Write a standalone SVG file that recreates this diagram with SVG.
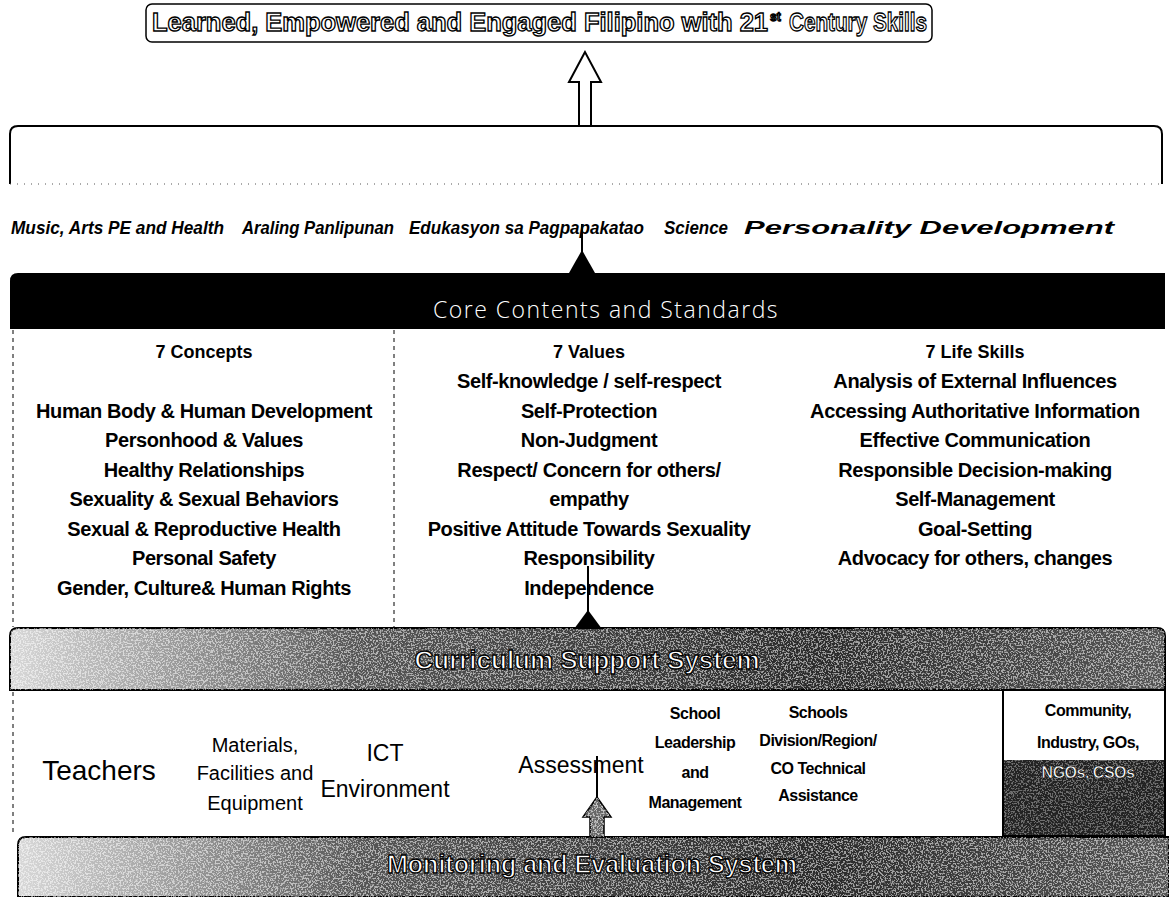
<svg xmlns="http://www.w3.org/2000/svg" width="1169" height="897" viewBox="0 0 1169 897">
<defs>
  <style>
    .t{font-family:"Liberation Sans",Arial,sans-serif;fill:#000}
    .out{font-family:"Liberation Sans",Arial,sans-serif;fill:#fff;stroke:#000;stroke-width:1.3;font-weight:bold}
    .subj{font-family:"Liberation Sans",Arial,sans-serif;font-style:italic;font-weight:bold;font-size:18px}
    .hdr{font-weight:bold;font-size:18px;text-anchor:middle}
    .col{font-weight:bold;font-size:20px;text-anchor:middle;letter-spacing:-0.4px}
    .row{font-size:20px;text-anchor:middle}
    .sm{font-weight:bold;font-size:16px;text-anchor:middle;letter-spacing:-0.5px}
    .line{fill:none;stroke:#000;stroke-width:2}
    .dash{fill:none;stroke:#000;stroke-width:1;stroke-dasharray:4 4}
  </style>
  <linearGradient id="barGrad" x1="0" y1="0" x2="1" y2="0">
    <stop offset="0" stop-color="#d8d8d8"/>
    <stop offset="0.3" stop-color="#555"/>
    <stop offset="0.7" stop-color="#2a2a2a"/>
    <stop offset="1" stop-color="#555"/>
  </linearGradient>
  <filter id="spk" x="0" y="0" width="1" height="1">
    <feTurbulence type="fractalNoise" baseFrequency="0.6" numOctaves="2" seed="7" result="t"/>
    <feColorMatrix in="t" type="matrix" values="0 0 0 0 1  0 0 0 0 1  0 0 0 0 1  9 0 0 0 -4.4" result="w"/>
    <feComposite in="w" in2="SourceAlpha" operator="in"/>
  </filter>
</defs>
<rect width="1169" height="897" fill="#fff"/>

<!-- Title node -->
<g id="title">
  <rect x="146" y="4" width="786" height="38" rx="6" fill="#fff" stroke="#000" stroke-width="1.5"/>
  <text class="out" x="152" y="31" font-size="25" textLength="616" lengthAdjust="spacingAndGlyphs">Learned, Empowered and Engaged Filipino with 21</text>
  <text class="out" x="770" y="21" font-size="12" stroke-width="0.6">st</text>
  <text class="out" x="789" y="31" font-size="25" textLength="138" lengthAdjust="spacingAndGlyphs">Century Skills</text>
</g>

<!-- Subjects bracket node -->
<g id="subjects">
  <path class="line" d="M10 184 L10 134 Q10 126 18 126 L579 126 M591 126 L1154 126 Q1162 126 1162 134 L1162 184"/>
  <line x1="10" y1="184" x2="1162" y2="184" stroke="#555" stroke-width="1" stroke-dasharray="1 6"/>
  <text class="subj" x="11" y="234" textLength="213" lengthAdjust="spacingAndGlyphs">Music, Arts PE and Health</text>
  <text class="subj" x="242" y="234" textLength="152" lengthAdjust="spacingAndGlyphs">Araling Panlipunan</text>
  <text class="subj" x="409" y="234" textLength="235" lengthAdjust="spacingAndGlyphs">Edukasyon sa Pagpapakatao</text>
  <text class="subj" x="664" y="234" textLength="64" lengthAdjust="spacingAndGlyphs">Science</text>
  <text class="subj" x="744" y="234" textLength="370" lengthAdjust="spacingAndGlyphs">Personality Development</text>
</g>

<!-- Core contents bar -->
<g id="core">
  <path d="M10 329 L10 281 Q10 273 18 273 L1165 273 L1165 329 Z" fill="#000"/>
  <text x="606" y="318" text-anchor="middle" font-family="'Open Sans','Liberation Sans',sans-serif" font-weight="300" font-size="23" letter-spacing="1.5" fill="#fff">Core Contents and Standards</text>
</g>

<!-- Three columns -->
<g id="columns">
  <line class="dash" x1="13" y1="330" x2="13" y2="627"/>
  <line class="dash" x1="394" y1="330" x2="394" y2="627"/>
</g>
<g id="concepts">
  <text class="t hdr" x="204" y="358">7 Concepts</text>
  <text class="t col" x="204" y="418">Human Body &amp; Human Development</text>
  <text class="t col" x="204" y="447">Personhood &amp; Values</text>
  <text class="t col" x="204" y="477">Healthy Relationships</text>
  <text class="t col" x="204" y="506">Sexuality &amp; Sexual Behaviors</text>
  <text class="t col" x="204" y="536">Sexual &amp; Reproductive Health</text>
  <text class="t col" x="204" y="565">Personal Safety</text>
  <text class="t col" x="204" y="595">Gender, Culture&amp; Human Rights</text>
</g>
<g id="values">
  <text class="t hdr" x="589" y="358">7 Values</text>
  <text class="t col" x="589" y="388">Self-knowledge / self-respect</text>
  <text class="t col" x="589" y="418">Self-Protection</text>
  <text class="t col" x="589" y="447">Non-Judgment</text>
  <text class="t col" x="589" y="477">Respect/ Concern for others/</text>
  <text class="t col" x="589" y="506">empathy</text>
  <text class="t col" x="589" y="536">Positive Attitude Towards Sexuality</text>
  <text class="t col" x="589" y="565">Responsibility</text>
  <text class="t col" x="589" y="595">Independence</text>
</g>
<g id="lifeskills">
  <text class="t hdr" x="975" y="358">7 Life Skills</text>
  <text class="t col" x="975" y="388">Analysis of External Influences</text>
  <text class="t col" x="975" y="418">Accessing Authoritative Information</text>
  <text class="t col" x="975" y="447">Effective Communication</text>
  <text class="t col" x="975" y="477">Responsible Decision-making</text>
  <text class="t col" x="975" y="506">Self-Management</text>
  <text class="t col" x="975" y="536">Goal-Setting</text>
  <text class="t col" x="975" y="565">Advocacy for others, changes</text>
</g>

<!-- Curriculum Support System bar -->
<g id="curriculum">
  <path d="M10 690 L10 636 Q10 628 18 628 L1157 628 Q1165 628 1165 636 L1165 690 Z" fill="url(#barGrad)" stroke="#000" stroke-width="2"/>
  <path d="M10 690 L10 636 Q10 628 18 628 L1157 628 Q1165 628 1165 636 L1165 690 Z" fill="#fff" filter="url(#spk)" opacity="0.55"/>
  <text class="out" x="587" y="669" font-size="26" text-anchor="middle" textLength="345" lengthAdjust="spacingAndGlyphs">Curriculum Support System</text>
</g>

<!-- Support items -->
<g id="supports">
  <line class="dash" x1="13" y1="692" x2="13" y2="836"/>
  <text id="teachers" class="t" x="99" y="780" font-size="28" text-anchor="middle">Teachers</text>
  <g id="materials">
    <text class="t row" x="255" y="752">Materials,</text>
    <text class="t row" x="255" y="780">Facilities and</text>
    <text class="t row" x="255" y="810">Equipment</text>
  </g>
  <g id="ict">
    <text class="t" x="385" y="761" font-size="23" text-anchor="middle">ICT</text>
    <text class="t" x="385" y="797" font-size="23" text-anchor="middle">Environment</text>
  </g>
  <text id="assessment" class="t" x="581" y="773" font-size="23" text-anchor="middle">Assessment</text>
  <g id="leadership">
    <text class="t sm" x="695" y="719">School</text>
    <text class="t sm" x="695" y="748">Leadership</text>
    <text class="t sm" x="695" y="778">and</text>
    <text class="t sm" x="695" y="808">Management</text>
  </g>
  <g id="division">
    <text class="t sm" x="818" y="718">Schools</text>
    <text class="t sm" x="818" y="746">Division/Region/</text>
    <text class="t sm" x="818" y="774">CO Technical</text>
    <text class="t sm" x="818" y="801">Assistance</text>
  </g>
  <g id="community">
    <rect x="1003" y="690" width="162" height="146" fill="#fff" stroke="#000" stroke-width="2"/>
    <rect x="1004" y="760" width="160" height="75" fill="#222"/>
    <rect x="1004" y="691" width="160" height="144" fill="#fff" filter="url(#spk)" opacity="0.35"/>
    <text class="t sm" x="1088" y="716">Community,</text>
    <text class="t sm" x="1088" y="748">Industry, GOs,</text>
    <text class="sm" x="1088" y="778" font-family="'Liberation Sans',Arial,sans-serif" fill="#fff" stroke="#000" stroke-width="0.6">NGOs, CSOs</text>
  </g>
</g>

<!-- Monitoring and Evaluation System bar -->
<g id="monitoring">
  <path d="M18 897 L18 845 Q18 837 26 837 L1169 837 L1169 897 Z" fill="url(#barGrad)" stroke="#000" stroke-width="2"/>
  <path d="M18 897 L18 845 Q18 837 26 837 L1169 837 L1169 897 Z" fill="#fff" filter="url(#spk)" opacity="0.55"/>
  <text class="out" x="592" y="873" font-size="26" text-anchor="middle" textLength="410" lengthAdjust="spacingAndGlyphs">Monitoring and Evaluation System</text>
</g>

<!-- Connectors -->
<g id="connectors">
  <polygon points="585,52 569,82 579,82 579,126 591,126 591,82 601,82" fill="#fff" stroke="#000" stroke-width="2"/>
  <line x1="582" y1="224" x2="582" y2="256" stroke="#000" stroke-width="2"/>
  <polygon points="582,250 569,273 595,273" fill="#000"/>
  <line x1="588" y1="566" x2="588" y2="616" stroke="#000" stroke-width="2"/>
  <polygon points="588,610 574,629 602,629" fill="#000"/>
  <line x1="597" y1="756" x2="597" y2="800" stroke="#000" stroke-width="2"/>
  <polygon points="597,797 583,817 590,817 590,837 604,837 604,817 611,817" fill="#666" stroke="#000" stroke-width="1.5"/>
  <polygon points="597,797 583,817 590,817 590,837 604,837 604,817 611,817" fill="#fff" filter="url(#spk)" opacity="0.6"/>
</g>
</svg>
